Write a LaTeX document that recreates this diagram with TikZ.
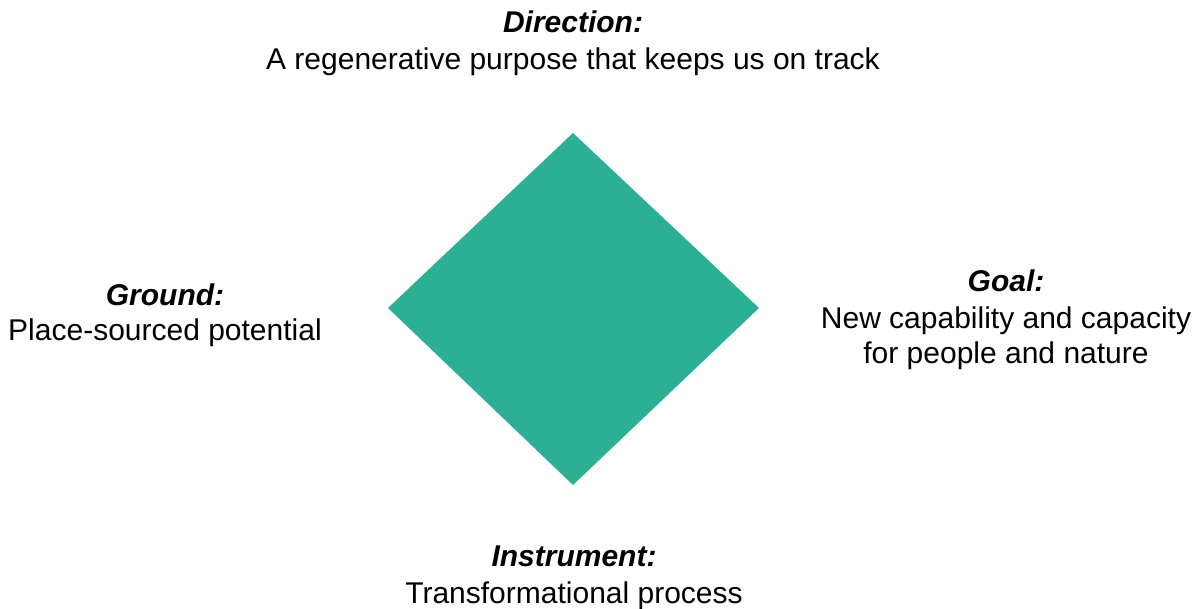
\documentclass[tikz,border=0pt]{standalone}
\usepackage{fontspec}
\setmainfont{Liberation Sans}
\definecolor{teal}{HTML}{2BB094}
\begin{document}
\begin{tikzpicture}[x=1pt,y=1pt,
  lbl/.style={inner sep=0pt,anchor=base,font=\fontsize{30}{36}\selectfont},
  ttl/.style={lbl,font=\fontsize{30}{36}\selectfont\bfseries\itshape}]
\useasboundingbox (0,0) rectangle (1201,609);
\fill[teal] (573,{609-133}) coordinate (top) -- (759,{609-308}) coordinate (right)
  -- (573,{609-485}) coordinate (bottom) -- (388,{609-308}) coordinate (left) -- cycle;
\node[ttl] (dirT) at (573,{609-33}) {Direction:};
\node[lbl] (dirB) at (573,{609-70}) {A regenerative purpose that keeps us on track};
\node[ttl] (gndT) at (165,{609-306}) {Ground:};
\node[lbl] (gndB) at (165,{609-341}) {Place-sourced potential};
\node[ttl] (goalT) at (1006,{609-292}) {Goal:};
\node[lbl] (goalB) at (1006,{609-329}) {New capability and capacity};
\node[lbl] (goalC) at (1006,{609-364}) {for people and nature};
\node[ttl] (insT) at (574,{609-567}) {Instrument:};
\node[lbl] (insB) at (574,{609-604}) {Transformational process};
\end{tikzpicture}
\end{document}
